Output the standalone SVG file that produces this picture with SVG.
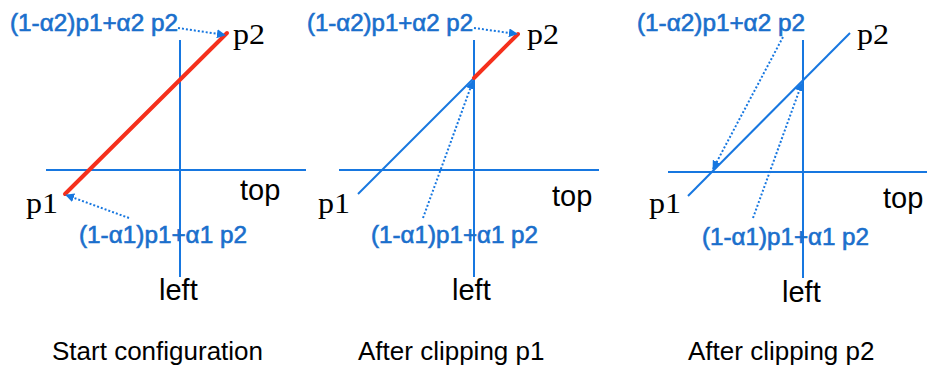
<svg xmlns="http://www.w3.org/2000/svg" width="927" height="368" viewBox="0 0 927 368">
<defs>
<style>
.ax{stroke:#1777e0;stroke-width:2;fill:none}
.seg{stroke:#1777e0;stroke-width:2;fill:none}
.red{stroke:#f5301c;stroke-width:4;fill:none;stroke-linecap:round}
.dot{stroke:#1777e0;stroke-width:2;stroke-dasharray:2 2;fill:none}
.pt{font-family:"Liberation Serif","Times New Roman",serif;font-size:29px;fill:#000}
.ax-l{font-family:"Liberation Sans",Arial,sans-serif;font-size:29px;fill:#000}
.lab{font-family:"Liberation Sans",Arial,sans-serif;font-size:23px;fill:#1a6fcc;stroke:#1a6fcc;stroke-width:0.6}
.cap{font-family:"Liberation Sans",Arial,sans-serif;font-size:26px;fill:#000}
</style>
<marker id="ah" viewBox="0 0 10 10" refX="9" refY="5" markerWidth="9" markerHeight="9" markerUnits="userSpaceOnUse" orient="auto">
<path d="M0,0 L10,5 L0,10 z" fill="#1777e0"/>
</marker>
</defs>

<g id="panel1">
<line class="ax" x1="180" y1="40" x2="180" y2="277"/>
<line class="ax" x1="46" y1="170" x2="306" y2="170"/>
<line class="red" x1="65" y1="194" x2="227" y2="33"/>
<text class="pt" x="233" y="44" textLength="32" lengthAdjust="spacingAndGlyphs">p2</text>
<text class="pt" x="26" y="213" textLength="32" lengthAdjust="spacingAndGlyphs">p1</text>
<text class="ax-l" x="240" y="200">top</text>
<text class="ax-l" x="159" y="300">left</text>
<text class="lab" x="10" y="31" textLength="168" lengthAdjust="spacingAndGlyphs">(1-α2)p1+α2 p2</text>
<text class="lab" x="79" y="243" textLength="168" lengthAdjust="spacingAndGlyphs">(1-α1)p1+α1 p2</text>
<text class="cap" x="52" y="360">Start configuration</text>
</g>

<g id="panel2">
<line class="ax" x1="474" y1="40" x2="474" y2="277"/>
<line class="ax" x1="339" y1="170" x2="599" y2="170"/>
<line class="seg" x1="358" y1="194" x2="474" y2="78"/>
<line class="red" x1="474" y1="78" x2="518" y2="34"/>
<text class="pt" x="527" y="44" textLength="32" lengthAdjust="spacingAndGlyphs">p2</text>
<text class="pt" x="318" y="213" textLength="32" lengthAdjust="spacingAndGlyphs">p1</text>
<text class="ax-l" x="552" y="206">top</text>
<text class="ax-l" x="452" y="300">left</text>
<text class="lab" x="307" y="31" textLength="166" lengthAdjust="spacingAndGlyphs">(1-α2)p1+α2 p2</text>
<text class="lab" x="371" y="243" textLength="167" lengthAdjust="spacingAndGlyphs">(1-α1)p1+α1 p2</text>
<text class="cap" x="358" y="360">After clipping p1</text>
</g>

<g id="panel3">
<line class="ax" x1="803" y1="40" x2="803" y2="278"/>
<line class="ax" x1="668" y1="172" x2="927" y2="172"/>
<line class="seg" x1="688" y1="196" x2="850" y2="33"/>
<text class="pt" x="857" y="44" textLength="32" lengthAdjust="spacingAndGlyphs">p2</text>
<text class="pt" x="649" y="213" textLength="32" lengthAdjust="spacingAndGlyphs">p1</text>
<text class="ax-l" x="883" y="208">top</text>
<text class="ax-l" x="782" y="302">left</text>
<text class="lab" x="637" y="31" textLength="168" lengthAdjust="spacingAndGlyphs">(1-α2)p1+α2 p2</text>
<text class="lab" x="702" y="245" textLength="167" lengthAdjust="spacingAndGlyphs">(1-α1)p1+α1 p2</text>
<text class="cap" x="688" y="360">After clipping p2</text>
</g>

<g id="connectors">
<line class="dot" x1="178" y1="28" x2="225" y2="35" marker-end="url(#ah)"/>
<line class="dot" x1="129" y1="218" x2="66" y2="195" marker-end="url(#ah)"/>
<line class="dot" x1="474" y1="28" x2="517" y2="34" marker-end="url(#ah)"/>
<line class="dot" x1="423" y1="218" x2="473" y2="81" marker-end="url(#ah)"/>
<line class="dot" x1="783" y1="37" x2="713" y2="169" marker-end="url(#ah)"/>
<line class="dot" x1="753" y1="218" x2="802" y2="83" marker-end="url(#ah)"/>
</g>
</svg>
